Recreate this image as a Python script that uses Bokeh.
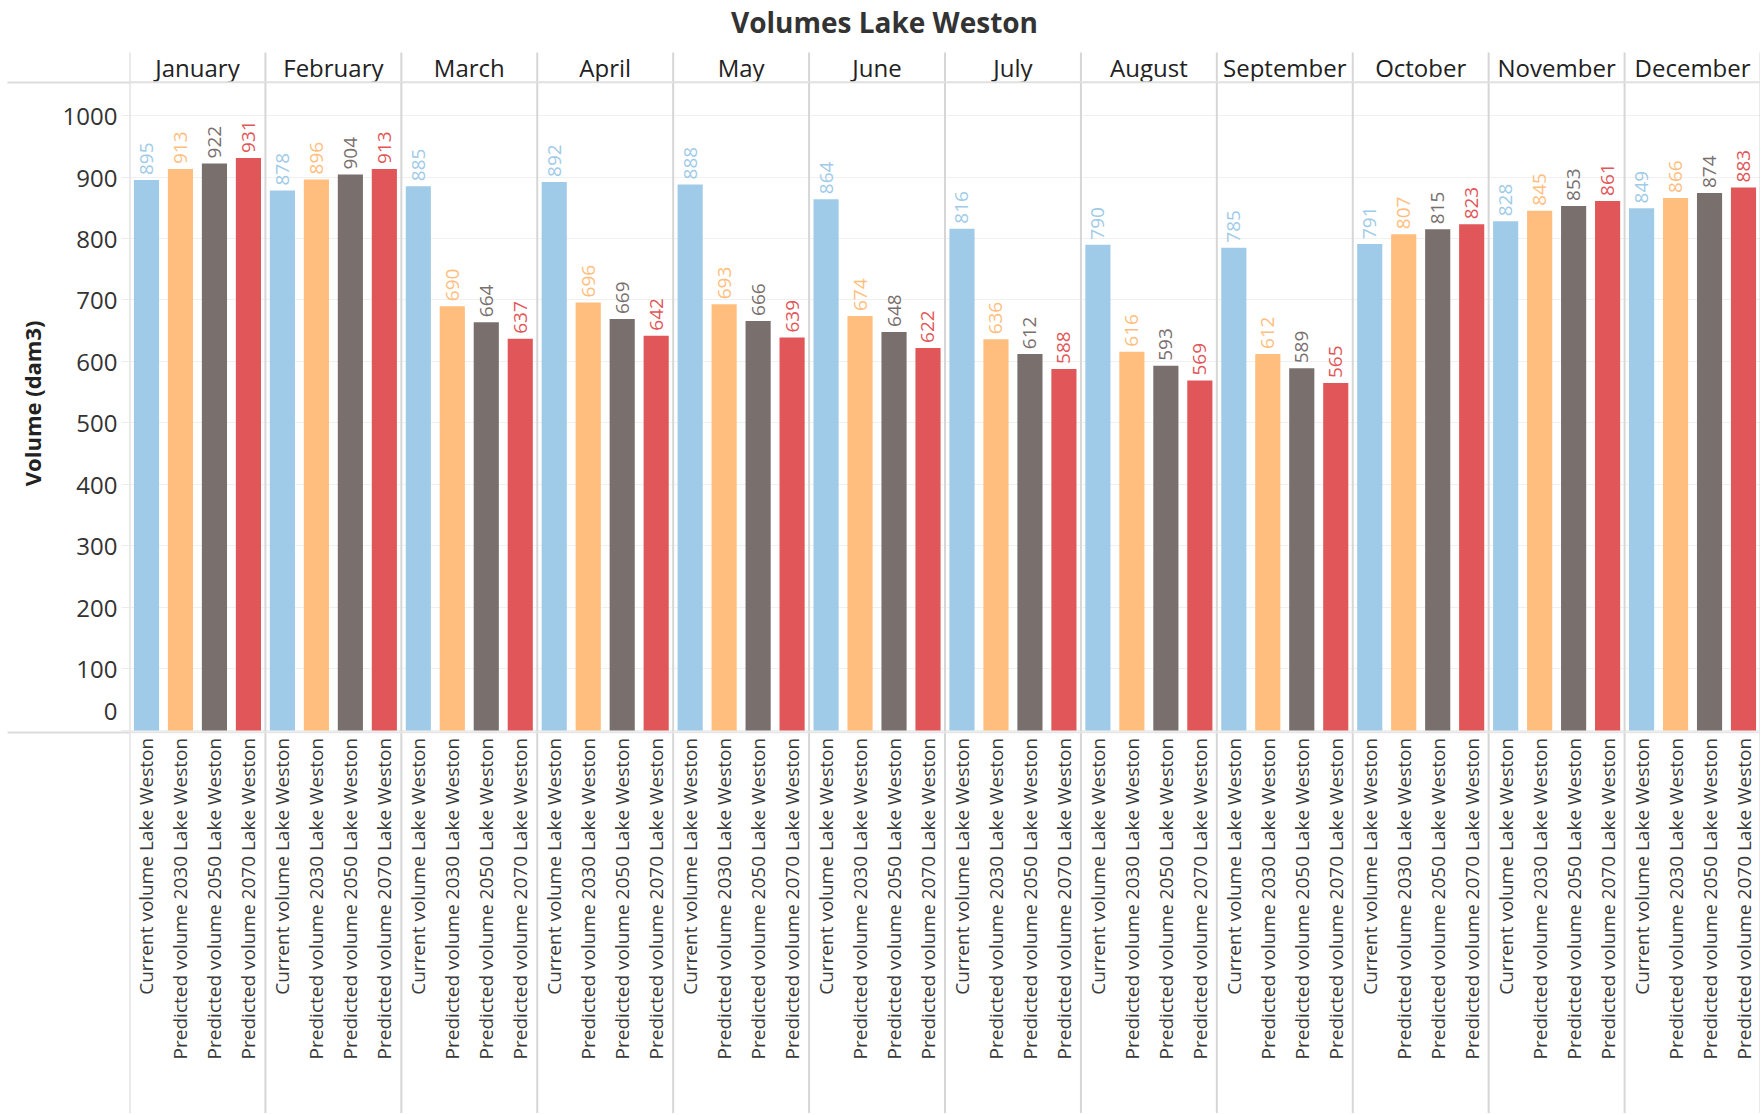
from math import pi
from bokeh.plotting import figure
from bokeh.models import (FactorRange, Range1d, ColumnDataSource, LabelSet, Span, Label,
                          FixedTicker, Title)
from bokeh.core.properties import value
from bokeh.embed import file_html
from bokeh.resources import INLINE

# ---------------- data ----------------
MONTHS = ["January", "February", "March", "April", "May", "June", "July",
          "August", "September", "October", "November", "December"]
SERIES = ["Current volume Lake Weston", "Predicted volume 2030 Lake Weston",
          "Predicted volume 2050 Lake Weston", "Predicted volume 2070 Lake Weston"]
CURRENT = [895, 878, 885, 892, 888, 864, 816, 790, 785, 791, 828, 849]
PRED_2030 = [913, 896, 690, 696, 693, 674, 636, 616, 612, 807, 845, 866]
PRED_2050 = [922, 904, 664, 669, 666, 648, 612, 593, 589, 815, 853, 874]
PRED_2070 = [931, 913, 637, 642, 639, 622, 588, 569, 565, 823, 861, 883]
COLORS = ["#A0CBE8", "#FFBE7D", "#79706E", "#E15759"]
Y_TICKS = [0, 100, 200, 300, 400, 500, 600, 700, 800, 900, 1000]
TITLE = "Volumes Lake Weston"
Y_LABEL = "Volume (dam3)"

# ---------------- layout / style ----------------
FONT = "Open Sans"
TXT = "#333333"
W, H = 1760, 1113
LEFT = 129
RULE_OUT = LEFT - 7
Y_TOP, Y_BOTTOM = 1187.0, -622.8      # frame covers title, header, plot and label strip
HEADER_TOP = 1102.4
HEADER_LINE = 1054.0
BOTTOM_RULE = -3.0
MONTH_Y = 1078.0
SERIES_LABEL_Y = -12.0

series_vals = [CURRENT, PRED_2030, PRED_2050, PRED_2070]
factors = [(m, s) for m in MONTHS for s in SERIES]
xs, tops, cols, labels = [], [], [], []
for mi, m in enumerate(MONTHS):
    for si, s in enumerate(SERIES):
        xs.append((m, s))
        tops.append(series_vals[si][mi])
        cols.append(COLORS[si])
        labels.append(str(series_vals[si][mi]))
src = ColumnDataSource(dict(x=xs, top=tops, color=cols, label=labels,
                            series=[f[1] for f in xs]))

p = figure(width=W, height=H,
           x_range=FactorRange(*factors, factor_padding=0, group_padding=0, range_padding=0),
           y_range=Range1d(Y_BOTTOM, Y_TOP),
           output_backend="svg", toolbar_location=None, x_axis_location=None,
           min_border_left=LEFT, min_border_right=0, min_border_top=0, min_border_bottom=0)
p.outline_line_color = None
p.background_fill_color = "white"
p.border_fill_color = "white"

# y axis; minor ticks at the two rules extend them into the axis area
p.yaxis.ticker = FixedTicker(ticks=Y_TICKS, minor_ticks=[HEADER_LINE, BOTTOM_RULE])
p.yaxis.axis_line_color = None
p.yaxis.major_tick_line_color = "#ececec"
p.yaxis.major_tick_line_width = 1
p.yaxis.major_tick_out = 8
p.yaxis.major_tick_in = 0
p.yaxis.minor_tick_line_color = "#dcdcdc"
p.yaxis.minor_tick_line_width = 2
p.yaxis.minor_tick_out = RULE_OUT
p.yaxis.minor_tick_in = 0
p.yaxis.major_label_text_font = FONT
p.yaxis.major_label_text_font_size = "24px"
p.yaxis.major_label_text_color = TXT
p.yaxis.major_label_standoff = 12 - RULE_OUT
p.yaxis.major_label_overrides = {0: "0\n\u00a0"}   # lift the zero label above the rule
p.ygrid.ticker = FixedTicker(ticks=Y_TICKS)
p.ygrid.grid_line_color = "#f0f0f0"
p.ygrid.grid_line_width = 1
p.xgrid.visible = False

# bars
p.vbar(x="x", top="top", bottom=0, width=0.74, source=src,
       fill_color="color", line_color=None)

# value labels
p.add_layout(LabelSet(x="x", y="top", text="label", source=src, angle=pi / 2,
                      text_align="left", text_baseline="middle", y_offset=5,
                      text_color="color", text_font=value(FONT),
                      text_font_size=value("19px")))

# series labels (bottom strip)
p.text(x="x", y=SERIES_LABEL_Y, text="series", source=src, angle=pi / 2,
       text_align="right", text_baseline="middle", text_font=value(FONT),
       text_font_size=value("19px"), text_color="#3a3a3a")

# month header
p.text(x=MONTHS, y=[MONTH_Y] * len(MONTHS), text=MONTHS, text_align="center",
       text_baseline="middle", text_font=value(FONT), text_font_size=value("24px"),
       text_color="#222222")

# panel dividers (from header top down to the bottom)
bounds = [i * len(SERIES) for i in range(len(MONTHS) + 1)]
p.segment(x0=bounds, y0=[Y_BOTTOM] * len(bounds), x1=bounds, y1=[HEADER_TOP] * len(bounds),
          line_color="#d6d6d6", line_width=2)
p.add_layout(Span(location=HEADER_LINE, dimension="width", line_color="#e0e0e0", line_width=2))
p.add_layout(Span(location=BOTTOM_RULE, dimension="width", line_color="#e6e6e6", line_width=2))

# title (inside the frame's top strip)
p.add_layout(Label(x=884 - LEFT, y=H - 21, x_units="screen", y_units="screen", text=TITLE,
                   text_align="center", text_baseline="middle", text_font=FONT,
                   text_font_size="28px", text_font_style="bold", text_color=TXT))

# y-axis label as a side title
p.add_layout(Title(text=Y_LABEL, align="right", offset=320, standoff=26,
                   vertical_align="bottom", text_font=FONT, text_font_size="22px",
                   text_font_style="bold", text_color="#222222"), "left")

open("out.html", "w").write(file_html(p, INLINE))
